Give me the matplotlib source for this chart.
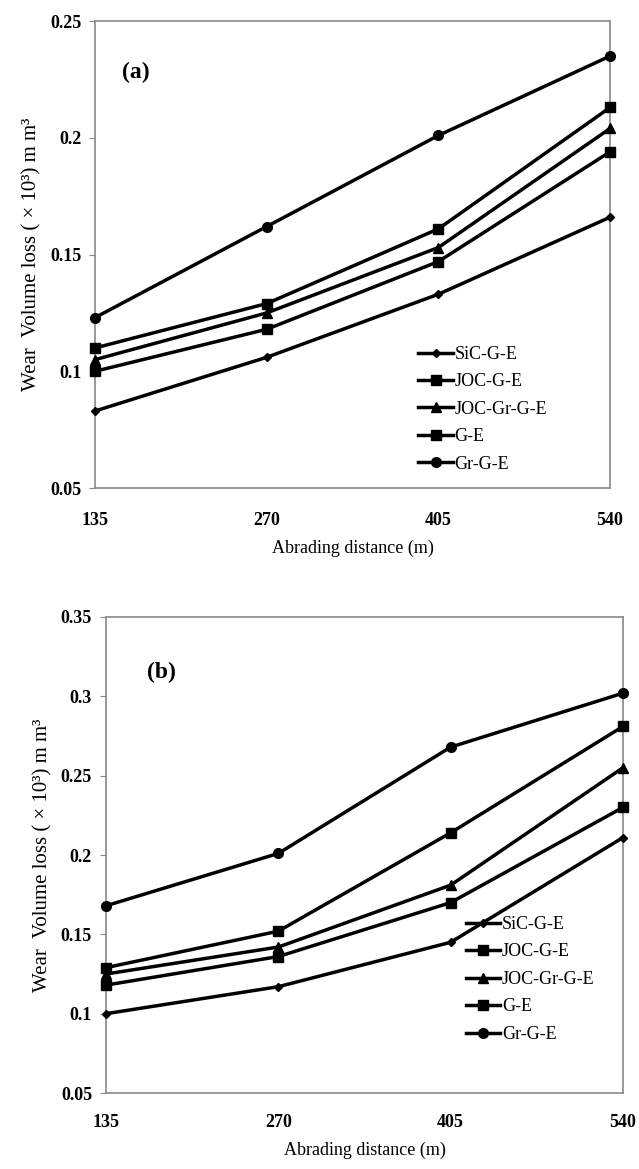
import matplotlib
matplotlib.use("Agg")
import matplotlib.pyplot as plt

plt.rcParams['font.family'] = ['Liberation Serif', 'DejaVu Serif']

distance = [135, 270, 405, 540]
series_names = ["SiC-G-E", "JOC-G-E", "JOC-Gr-G-E", "G-E", "Gr-G-E"]
markers = ["D", "s", "^", "s", "o"]
marker_sizes = [4, 7, 7, 7, 7]

# panel (a)
wear_a_sic = [0.083, 0.106, 0.133, 0.166]
wear_a_joc = [0.110, 0.129, 0.161, 0.213]
wear_a_jocgr = [0.105, 0.125, 0.153, 0.204]
wear_a_ge = [0.100, 0.118, 0.147, 0.194]
wear_a_grge = [0.123, 0.162, 0.201, 0.235]

# panel (b)
wear_b_sic = [0.100, 0.117, 0.145, 0.211]
wear_b_joc = [0.129, 0.152, 0.214, 0.281]
wear_b_jocgr = [0.125, 0.142, 0.181, 0.255]
wear_b_ge = [0.118, 0.136, 0.170, 0.230]
wear_b_grge = [0.168, 0.201, 0.268, 0.302]

yticks_a = [0.05, 0.1, 0.15, 0.2, 0.25]
yticks_b = [0.05, 0.1, 0.15, 0.2, 0.25, 0.3, 0.35]

ylabel = "Wear  Volume loss ( × 10³) m m³"
xlabel = "Abrading distance (m)"

fig = plt.figure(figsize=(6.39, 11.69), dpi=100)
ax_a = fig.add_axes([0.1487, 0.5825, 0.806, 0.3995])
ax_b = fig.add_axes([0.1659, 0.065, 0.809, 0.4072])


def draw_panel(ax, data, yticks, tag, tag_pos, legend_anchor, xpad, ylabelpad):
    for vals, name, mk, ms in zip(data, series_names, markers, marker_sizes):
        ax.plot(distance, vals, color="black", lw=2.5, marker=mk, ms=ms,
                label=name, clip_on=False, zorder=3)
    ax.set_xlim(135, 540)
    ax.set_ylim(yticks[0], yticks[-1])
    ax.set_xticks(distance)
    ax.set_yticks(yticks)
    ax.set_xticklabels([str(d) for d in distance], fontweight="bold", fontsize=13)
    ax.set_yticklabels([f"{t:g}" for t in yticks], fontweight="bold", fontsize=13)
    ax.tick_params(axis="x", length=0, pad=xpad)
    ax.tick_params(axis="y", length=4, color="#888888", direction="out", pad=6)
    for sp in ax.spines.values():
        sp.set_color("#888888")
        sp.set_linewidth(1.2)
    ax.set_xlabel(xlabel, fontsize=13, labelpad=8)
    ax.set_ylabel(ylabel, fontsize=15, labelpad=ylabelpad)
    ax.text(tag_pos[0], tag_pos[1], tag, transform=ax.transAxes, fontsize=17,
            fontweight="bold", va="center")
    ax.legend(loc="upper left", bbox_to_anchor=legend_anchor, frameon=False,
              fontsize=13, handlelength=1.9, handletextpad=0.1,
              labelspacing=0.58, borderaxespad=0)


draw_panel(ax_a, [wear_a_sic, wear_a_joc, wear_a_jocgr, wear_a_ge, wear_a_grge],
           yticks_a, "(a)", (0.052, 0.889), (0.614, 0.32), 17, 6)
draw_panel(ax_b, [wear_b_sic, wear_b_joc, wear_b_jocgr, wear_b_ge, wear_b_grge],
           yticks_b, "(b)", (0.079, 0.884), (0.682, 0.387), 15, 6)

fig.savefig("out.png", dpi=100)
